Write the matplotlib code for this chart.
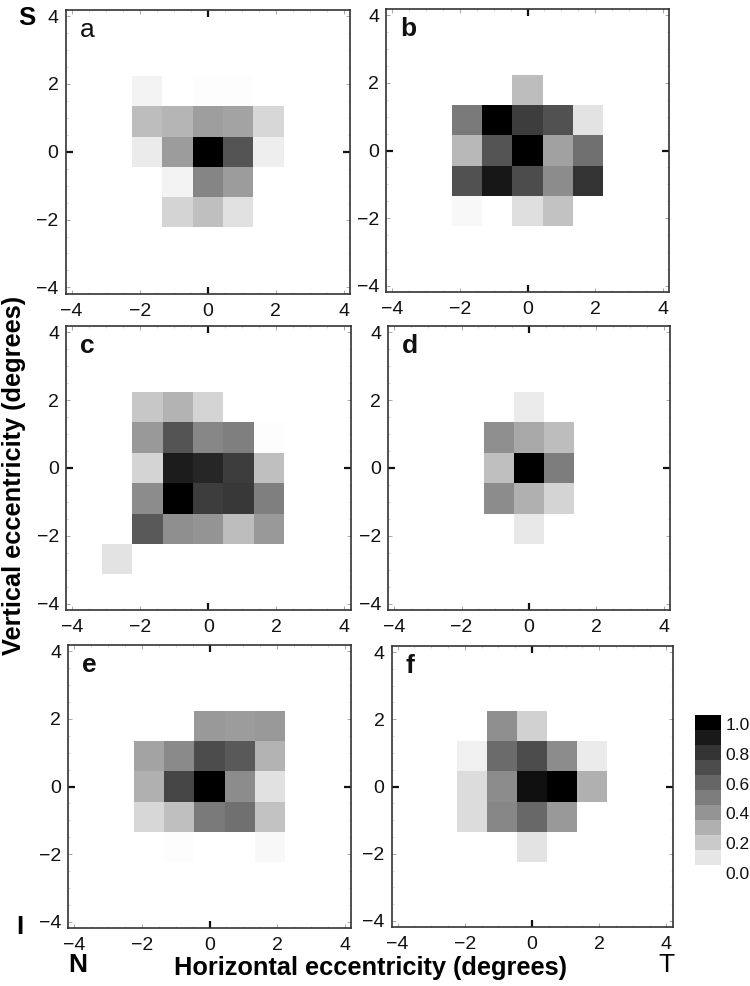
import matplotlib
matplotlib.use('Agg')
import matplotlib.pyplot as plt
import numpy as np

plt.rcParams['font.family'] = ['Liberation Sans', 'DejaVu Sans']

W, H = 750, 986
step = 0.893

# rows run from top (+2.68 deg) to bottom (-2.68 deg), cols from -2.68 to +2.68
a = [[0, 0,    0,    0,    0,    0,    0],
     [0, 0.05, 0,    0.01, 0.01, 0,    0],
     [0, 0.26, 0.29, 0.38, 0.36, 0.16, 0],
     [0, 0.08, 0.39, 1.00, 0.67, 0.07, 0],
     [0, 0,    0.05, 0.48, 0.39, 0,    0],
     [0, 0,    0.17, 0.25, 0.12, 0,    0],
     [0, 0,    0,    0,    0,    0,    0]]
b = [[0, 0,    0,    0,    0,    0,    0],
     [0, 0,    0,    0.26, 0,    0,    0],
     [0, 0.52, 1.00, 0.76, 0.68, 0.11, 0],
     [0, 0.28, 0.67, 1.00, 0.37, 0.56, 0],
     [0, 0.68, 0.91, 0.70, 0.45, 0.80, 0],
     [0, 0.03, 0,    0.13, 0.24, 0,    0],
     [0, 0,    0,    0,    0,    0,    0]]
c = [[0, 0,    0,    0,    0,    0,    0],
     [0, 0.22, 0.30, 0.17, 0,    0,    0],
     [0, 0.40, 0.67, 0.47, 0.50, 0.01, 0],
     [0, 0.17, 0.89, 0.85, 0.76, 0.25, 0],
     [0, 0.45, 1.00, 0.76, 0.78, 0.50, 0],
     [0, 0.65, 0.44, 0.42, 0.26, 0.40, 0],
     [0.11, 0, 0,    0,    0,    0,    0]]
d = [[0, 0,    0,    0,    0,    0,    0],
     [0, 0,    0,    0.08, 0,    0,    0],
     [0, 0,    0.44, 0.34, 0.26, 0,    0],
     [0, 0,    0.25, 1.00, 0.51, 0,    0],
     [0, 0,    0.45, 0.31, 0.17, 0,    0],
     [0, 0,    0,    0.09, 0,    0,    0],
     [0, 0,    0,    0,    0,    0,    0]]
e = [[0, 0,    0,    0,    0,    0,    0],
     [0, 0,    0,    0.40, 0.39, 0.40, 0],
     [0, 0.36, 0.46, 0.70, 0.65, 0.30, 0],
     [0, 0.31, 0.73, 1.00, 0.45, 0.12, 0],
     [0, 0.16, 0.25, 0.52, 0.56, 0.24, 0],
     [0, 0,    0.01, 0,    0,    0.03, 0],
     [0, 0,    0,    0,    0,    0,    0]]
f = [[0, 0,    0,    0,    0,    0,    0],
     [0, 0,    0.44, 0.18, 0,    0,    0],
     [0, 0.06, 0.58, 0.70, 0.45, 0.08, 0],
     [0, 0.14, 0.45, 0.94, 1.00, 0.31, 0],
     [0, 0.14, 0.47, 0.59, 0.40, 0,    0],
     [0, 0,    0,    0.11, 0,    0,    0],
     [0, 0,    0,    0,    0,    0,    0]]

names = ['a', 'b', 'c', 'd', 'e', 'f']
panels = [a, b, c, d, e, f]
# left, right, top, bottom in pixels
boxes = [(65.5, 350, 10, 293.5), (386, 669, 9, 292),
         (66, 350.5, 326, 610), (388, 670, 326, 610),
         (68, 351, 645, 928), (391.5, 672.5, 646, 927)]

cbar_levels = [0.10, 0.21, 0.31, 0.42, 0.51, 0.60, 0.70, 0.80, 0.90, 1.00]
cbar_ticks = [0.0, 0.2, 0.4, 0.6, 0.8, 1.0]


def addAxes(fig, l, r, t, b):
    return fig.add_axes([l / W, 1 - b / H, (r - l) / W, (b - t) / H])


fig = plt.figure(figsize=(7.5, 9.86), dpi=100)
edges = (np.arange(8) - 3.5) * step

for name, vals, box in zip(names, panels, boxes):
    ax = addAxes(fig, *box)
    ax.pcolormesh(edges, edges[::-1], np.array(vals), cmap='gray_r', vmin=0, vmax=1)
    ax.set_xlim(-4.18, 4.18)
    ax.set_ylim(-4.18, 4.18)
    ax.set_aspect('auto')
    ax.set_xticks([-4, -2, 0, 2, 4])
    ax.set_yticks([-4, -2, 0, 2, 4])
    ax.set_xticks(np.arange(-4, 4.1, 0.5), minor=True)
    ax.set_yticks(np.arange(-4, 4.1, 0.5), minor=True)
    ax.tick_params(which='major', direction='in', top=True, right=True, length=3,
                   width=0.6, color='#999999', labelsize=14, labelcolor='#111111', pad=5)
    ax.tick_params(axis='x', which='major', pad=6.5)
    ax.tick_params(which='minor', direction='in', top=True, right=True, length=1.5,
                   width=0.4, color='#bbbbbb')
    # thick mark only at zero
    for t in (ax.xaxis.get_major_ticks()[2], ax.yaxis.get_major_ticks()[2]):
        for ln in (t.tick1line, t.tick2line):
            ln.set_markersize(5)
            ln.set_markeredgewidth(1.6)
            ln.set_markeredgecolor('#111111')
    for s in ax.spines.values():
        s.set_linewidth(1.2)
        s.set_color('#333333')
    ax.text(0.05, 0.93, name, transform=ax.transAxes, fontsize=19, va='center', ha='left',
            fontweight='normal' if name == 'a' else 'bold', color='#111111')

# colour bar
cax = addAxes(fig, 695, 721, 715, 873)
cax.pcolormesh([0, 1], np.linspace(0.057, 1.06, 11), np.array(cbar_levels).reshape(-1, 1),
               cmap='gray_r', vmin=0, vmax=1)
cax.set_xlim(0, 1)
cax.set_ylim(0.057, 1.06)
cax.set_xticks([])
for s in cax.spines.values():
    s.set_visible(False)
cax.yaxis.tick_right()
cax.set_yticks(cbar_ticks)
cax.set_yticklabels(['%.1f' % v for v in cbar_ticks])
cax.tick_params(axis='y', length=0, labelsize=12.5, pad=3, labelcolor='#111111')

fig.text(27 / W, 1 - 18 / H, 'S', fontsize=18.5, fontweight='bold', ha='center', va='center')
fig.text(20 / W, 1 - 927 / H, 'I', fontsize=18.5, fontweight='bold', ha='center', va='center')
fig.text(78 / W, 1 - 965 / H, 'N', fontsize=19, fontweight='bold', ha='center', va='center')
fig.text(666 / W, 1 - 965 / H, 'T', fontsize=19, ha='center', va='center')
fig.text(370.5 / W, 1 - 968 / H, 'Horizontal eccentricity (degrees)', fontsize=18.3,
         fontweight='bold', ha='center', va='center')
fig.text(14 / W, 1 - 475 / H, 'Vertical eccentricity (degrees)', fontsize=18.3,
         fontweight='bold', ha='center', va='center', rotation=90)

fig.savefig('out.png', dpi=100)
